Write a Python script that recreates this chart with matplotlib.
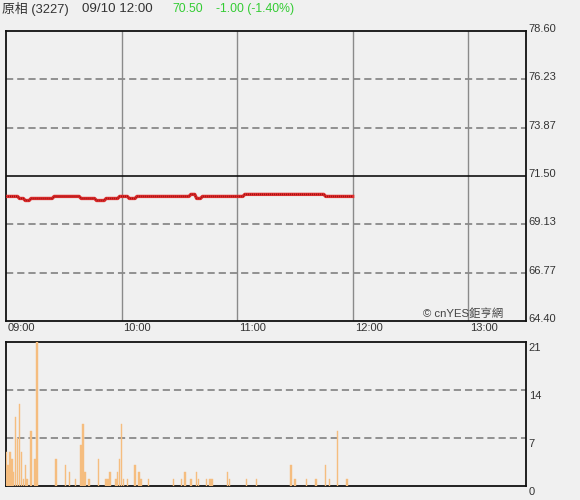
import matplotlib
matplotlib.use("Agg")
import matplotlib.pyplot as plt
import matplotlib.transforms as mtransforms

plt.rcParams["font.family"] = ["Liberation Sans", "Noto Sans CJK TC"]

# 1分K 價格 (09:00 ~ 12:00, 每分鐘一筆)
price = [
    70.5, 70.5, 70.5, 70.5, 70.5, 70.5, 70.5, 70.4, 70.4, 70.4,
    70.3, 70.3, 70.3, 70.4, 70.4, 70.4, 70.4, 70.4, 70.4, 70.4,
    70.4, 70.4, 70.4, 70.4, 70.4, 70.5, 70.5, 70.5, 70.5, 70.5,
    70.5, 70.5, 70.5, 70.5, 70.5, 70.5, 70.5, 70.5, 70.5, 70.4,
    70.4, 70.4, 70.4, 70.4, 70.4, 70.4, 70.4, 70.3, 70.3, 70.3,
    70.3, 70.3, 70.4, 70.4, 70.4, 70.4, 70.4, 70.4, 70.4, 70.5,
    70.5, 70.5, 70.5, 70.5, 70.4, 70.4, 70.4, 70.4, 70.5, 70.5,
    70.5, 70.5, 70.5, 70.5, 70.5, 70.5, 70.5, 70.5, 70.5, 70.5,
    70.5, 70.5, 70.5, 70.5, 70.5, 70.5, 70.5, 70.5, 70.5, 70.5,
    70.5, 70.5, 70.5, 70.5, 70.5, 70.5, 70.6, 70.6, 70.6, 70.4,
    70.4, 70.4, 70.5, 70.5, 70.5, 70.5, 70.5, 70.5, 70.5, 70.5,
    70.5, 70.5, 70.5, 70.5, 70.5, 70.5, 70.5, 70.5, 70.5, 70.5,
    70.5, 70.5, 70.5, 70.5, 70.6, 70.6, 70.6, 70.6, 70.6, 70.6,
    70.6, 70.6, 70.6, 70.6, 70.6, 70.6, 70.6, 70.6, 70.6, 70.6,
    70.6, 70.6, 70.6, 70.6, 70.6, 70.6, 70.6, 70.6, 70.6, 70.6,
    70.6, 70.6, 70.6, 70.6, 70.6, 70.6, 70.6, 70.6, 70.6, 70.6,
    70.6, 70.6, 70.6, 70.6, 70.6, 70.6, 70.5, 70.5, 70.5, 70.5,
    70.5, 70.5, 70.5, 70.5, 70.5, 70.5, 70.5, 70.5, 70.5, 70.5,
    70.5,
]
price_minutes = list(range(len(price)))

# 成交量 (分鐘, 張數)
vol_minutes = [0, 1, 2, 3, 4, 5, 6, 7, 8, 9, 10, 11, 13, 15, 16, 26, 31, 33, 36,
               39, 40, 41, 43, 48, 52, 53, 54, 57, 58, 59, 60, 61, 63, 67, 69,
               70, 74, 87, 91, 93, 96, 99, 100, 104, 106, 107, 115, 116, 125,
               130, 148, 150, 156, 161, 166, 168, 172, 177]
vol_values = [5, 3, 5, 4, 2, 10, 7, 12, 5, 1, 3, 1, 8, 4, 21, 4, 3, 2, 1,
              6, 9, 2, 1, 4, 1, 1, 2, 1, 2, 4, 9, 1, 1, 3, 2,
              1, 1, 1, 1, 2, 1, 2, 1, 1, 1, 1, 2, 1, 1,
              1, 3, 1, 1, 1, 3, 1, 8, 1]

price_ticks = [64.40, 66.77, 69.13, 71.50, 73.87, 76.23, 78.60]
prev_close = 71.50
vol_ticks = [0, 7, 14, 21]
time_ticks = [0, 60, 120, 180, 240]
time_labels = ["09:00", "10:00", "11:00", "12:00", "13:00"]

BG = "#f0f0f0"
TXT = "#333333"
GREEN = "#33cc33"

fig = plt.figure(figsize=(5.8, 5.0), dpi=100, facecolor=BG)
W, H = 580.0, 500.0


def px_axes(x0, y0, x1, y1):
    return fig.add_axes([x0 / W, 1 - y1 / H, (x1 - x0) / W, (y1 - y0) / H])


# ===== 上方: 價格 =====
ax = px_axes(6, 31, 526, 321)
ax.set_facecolor(BG)
ax.set_xlim(0, 270)
ax.set_ylim(64.40, 78.60)

for t in time_ticks[1:]:
    ax.axvline(t, color="#8a8a8a", lw=1.0, zorder=1)
for v in price_ticks[1:-1]:
    if v == prev_close:
        ax.axhline(v, color="#111111", lw=1.2, zorder=1)
    else:
        ax.axhline(v, color="#8a8a8a", lw=1.3, ls=(0, (4, 2.2)), zorder=1)

ax.plot(price_minutes, price, color="#e03030", lw=2.4, zorder=3,
        solid_joinstyle="round")
ax.plot(price_minutes, price, color="#a01010", lw=1.2, ls=(0, (0.6, 0.6)), zorder=4)

ax.set_xticks([])
ax.yaxis.tick_right()
ax.set_yticks(price_ticks)
ax.set_yticklabels([f"{v:.2f}" for v in price_ticks])
ax.tick_params(axis="y", length=0, pad=2, labelsize=8, labelcolor=TXT)
up = mtransforms.ScaledTranslation(0, 3 / 100, fig.dpi_scale_trans)
for lab in ax.get_yticklabels():
    lab.set_transform(lab.get_transform() + up)
for s in ax.spines.values():
    s.set_color("#111111")
    s.set_linewidth(1.3)

ax.text(0.956, 0.008, "© cnYES鉅亨網", transform=ax.transAxes, ha="right",
        va="bottom", fontsize=8.2, color="#444444", zorder=5)

# 時間標籤
for t, lab in zip(time_ticks, time_labels):
    fig.text((6 + t * 520 / 270 + 2) / W, 1 - 328 / H, lab, ha="left",
             va="center", fontsize=8, color=TXT)

# ===== 下方: 成交量 =====
axv = px_axes(6, 342, 526, 486)
axv.set_facecolor(BG)
axv.set_xlim(0, 270)
axv.set_ylim(0, 21)
for v in vol_ticks[1:-1]:
    axv.axhline(v, color="#8a8a8a", lw=1.3, ls=(0, (4, 2.2)), zorder=1)
axv.bar(vol_minutes, vol_values, width=0.75, color="#f5bd7f",
        edgecolor="#f5bd7f", linewidth=0.3, zorder=3)
axv.set_xticks([])
axv.yaxis.tick_right()
axv.set_yticks(vol_ticks)
axv.set_yticklabels([str(v) for v in vol_ticks])
axv.tick_params(axis="y", length=0, pad=2, labelsize=8, labelcolor=TXT)
down = mtransforms.ScaledTranslation(0, -5 / 100, fig.dpi_scale_trans)
for lab in axv.get_yticklabels():
    lab.set_transform(lab.get_transform() + down)
for s in axv.spines.values():
    s.set_color("#111111")
    s.set_linewidth(1.3)

# ===== 標題列 =====
fig.text(2 / W, 1 - 9 / H, "原相 (3227)", ha="left", va="center", fontsize=9.3, color=TXT)
fig.text(82 / W, 1 - 9 / H, "09/10 12:00", ha="left", va="center", fontsize=9.6, color=TXT)
fig.text(172 / W, 1 - 9 / H, "70.50", ha="left", va="center", fontsize=8.8, color=GREEN)
fig.text(216 / W, 1 - 9 / H, "-1.00 (-1.40%)", ha="left", va="center", fontsize=8.8, color=GREEN)

fig.savefig("out.png", dpi=100, facecolor=BG)
